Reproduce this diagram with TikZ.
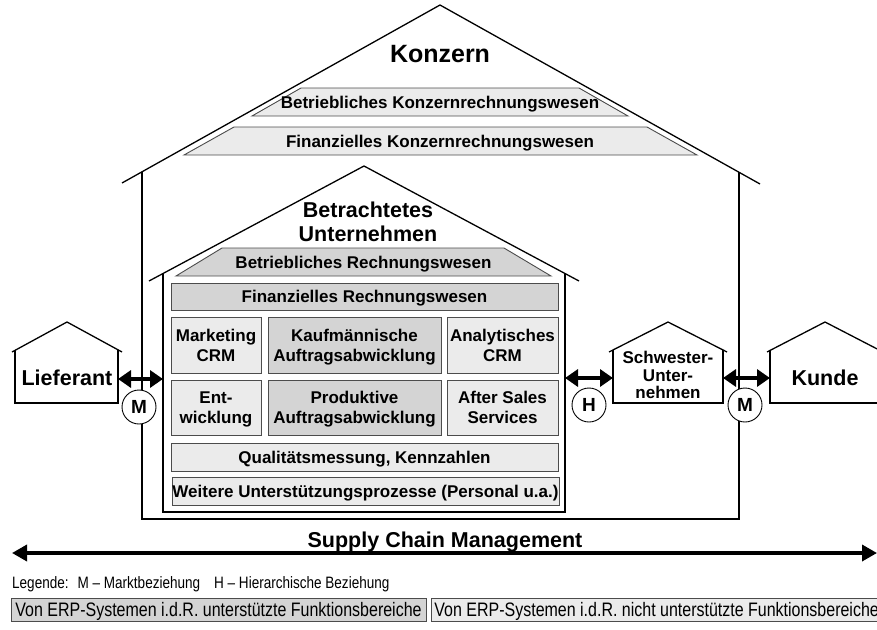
\documentclass[tikz,border=0pt]{standalone}
\usepackage{fontspec}
\setmainfont{Liberation Sans}
\newfontfamily\narrowfont[FakeStretch=0.82]{Liberation Sans}
\usetikzlibrary{arrows.meta}
\definecolor{erpgray}{gray}{0.83}
\definecolor{othergray}{gray}{0.92}

\begin{document}
\begin{tikzpicture}[x=1pt, y=-1pt, line join=miter, >={Triangle[length=13pt, width=17pt]}]
    \tikzset{
        house/.style={draw, line width=1.3pt},
        boxlabel/.style={inner sep=0pt, align=center, text depth=0pt, font=\bfseries\fontsize{17}{20}\selectfont},
        erpbox/.style={boxlabel, draw=black!70, line width=0.9pt, fill=erpgray},
        otherbox/.style={erpbox, fill=othergray},
        trapez/.style={draw=black!70, line width=0.9pt},
        housename/.style={align=center, text depth=0pt, font=\bfseries\fontsize{21.5}{24}\selectfont},
        relation/.style={<->, line width=4pt},
        relmark/.style={circle, draw, fill=white, line width=0.9pt, minimum size=34pt, inner sep=0pt, text depth=0pt, font=\bfseries\fontsize{19}{19}\selectfont},
        legendbox/.style={draw=black!70, line width=0.9pt, minimum height=23pt, inner xsep=3pt, text depth=0pt, font=\narrowfont\fontsize{19.5}{22}\selectfont}
    }
    \useasboundingbox (0,0) rectangle (877,629);
    \clip (0,0) rectangle (877,629);

    % Konzern
    \draw[house] (122,183) -- (440,5) -- (760,184);
    \draw[house] (142,172) -- (142,519);
    \draw[house] (739,172) -- (739,519);
    \draw[line width=2.2pt] (141.35,519) -- (739.65,519);
    \node[housename, font=\bfseries\fontsize{25}{28}\selectfont] (konzern) at (440,54) {Konzern};

    \draw[trapez, fill=othergray] (252,116) -- (301,88) -- (579,88) -- (628,116) -- cycle;
    \node[boxlabel] (bkrw) at (440,102) {Betriebliches Konzernrechnungswesen};
    \draw[trapez, fill=othergray] (184,155) -- (234,127) -- (647,127) -- (697,155) -- cycle;
    \node[boxlabel] (fkrw) at (440,141) {Finanzielles Konzernrechnungswesen};

    % Betrachtetes Unternehmen
    \draw[house] (149,281) -- (364,166) -- (579,281);
    \draw[house] (163,273) -- (163,512) -- (565,512) -- (565,273);
    \node[housename] (unternehmen) at (368,222) {Betrachtetes\\Unternehmen};

    \draw[trapez, fill=erpgray] (176,276) -- (222,248) -- (504,248) -- (551,276) -- cycle;
    \node[boxlabel] (brw) at (363.5,262) {Betriebliches Rechnungswesen};
    \node[erpbox, minimum width=387pt, minimum height=27pt] (frw) at (364.5,296.5) {Finanzielles Rechnungswesen};
    \node[otherbox, minimum width=90pt, minimum height=56pt] (mcrm) at (216,345) {Marketing\\CRM};
    \node[erpbox, minimum width=173pt, minimum height=56pt] (kauf) at (354.5,345) {Kaufmännische\\Auftragsabwicklung};
    \node[otherbox, minimum width=111pt, minimum height=56pt] (acrm) at (502.5,345) {Analytisches\\CRM};
    \node[otherbox, minimum width=90pt, minimum height=55pt] (entw) at (216,407.5) {Ent-\\wicklung};
    \node[erpbox, minimum width=173pt, minimum height=55pt] (prod) at (354.5,407.5) {Produktive\\Auftragsabwicklung};
    \node[otherbox, minimum width=111pt, minimum height=55pt] (after) at (502.5,407.5) {After Sales\\Services};
    \node[otherbox, minimum width=387pt, minimum height=28pt] (quali) at (364.5,457) {Qualitätsmessung, Kennzahlen};
    \node[otherbox, minimum width=387pt, minimum height=28pt] (weitere) at (365.5,491) {Weitere Unterstützungsprozesse (Personal u.a.)};

    % Lieferant
    \draw[house] (12,352) -- (67,322) -- (122,352);
    \draw[house] (15,350.4) -- (15,403) -- (118,403) -- (118,350.4);
    \node[housename] (lieferant) at (67,378) {Lieferant};

    % Schwester-Unternehmen
    \draw[house] (609,352) -- (668,322) -- (727,352);
    \draw[house] (613,350) -- (613,403) -- (723,403) -- (723,350);
    \node[boxlabel, font=\bfseries\fontsize{17}{17.5}\selectfont] (schwester) at (668,375) {Schwester-\\Unter-\\nehmen};

    % Kunde
    \draw[house] (767,352) -- (825,322) -- (883,352);
    \draw[house] (770,350.5) -- (770,403) -- (880,403) -- (880,350.5);
    \node[housename] (kunde) at (825,378) {Kunde};

    % Beziehungen
    \coordinate (lief-e) at (118,379);
    \coordinate (unt-w) at (163,379);
    \coordinate (unt-e) at (565,378);
    \coordinate (schw-w) at (613,378);
    \coordinate (schw-e) at (723,378);
    \coordinate (kunde-w) at (770,378);

    \draw[relation] (lief-e) -- (unt-w);
    \node[relmark] (mleft) at (139,407) {M};
    \draw[relation] (unt-e) -- (schw-w);
    \node[relmark] (hmid) at (589,405) {H};
    \draw[relation] (schw-e) -- (kunde-w);
    \node[relmark] (mright) at (745,405) {M};

    % Supply Chain Management
    \coordinate (scm-w) at (12,553);
    \coordinate (scm-e) at (877,553);
    \draw[<->, line width=3.5pt, >={Triangle[length=15pt, width=16pt]}] (scm-w) -- (scm-e);
    \node[housename, font=\bfseries\fontsize{21.5}{24}\selectfont] (scm) at (445,540) {Supply Chain Management};

    % Legende
    \node[anchor=west, inner sep=0pt, text depth=0pt, font=\narrowfont\fontsize{16.5}{20}\selectfont] (legende) at (12,583) {Legende:\hspace{9pt}M – Marktbeziehung\hspace{14pt}H – Hierarchische Beziehung};
    \node[legendbox, fill=erpgray, minimum width=415pt] (erp) at (218.5,609.5) {Von ERP-Systemen i.d.R. unterstützte Funktionsbereiche};
    \node[legendbox, fill=othergray, anchor=west] (nonerp) at (431,609.5) {Von ERP-Systemen i.d.R. nicht unterstützte Funktionsbereiche};
\end{tikzpicture}
\end{document}
